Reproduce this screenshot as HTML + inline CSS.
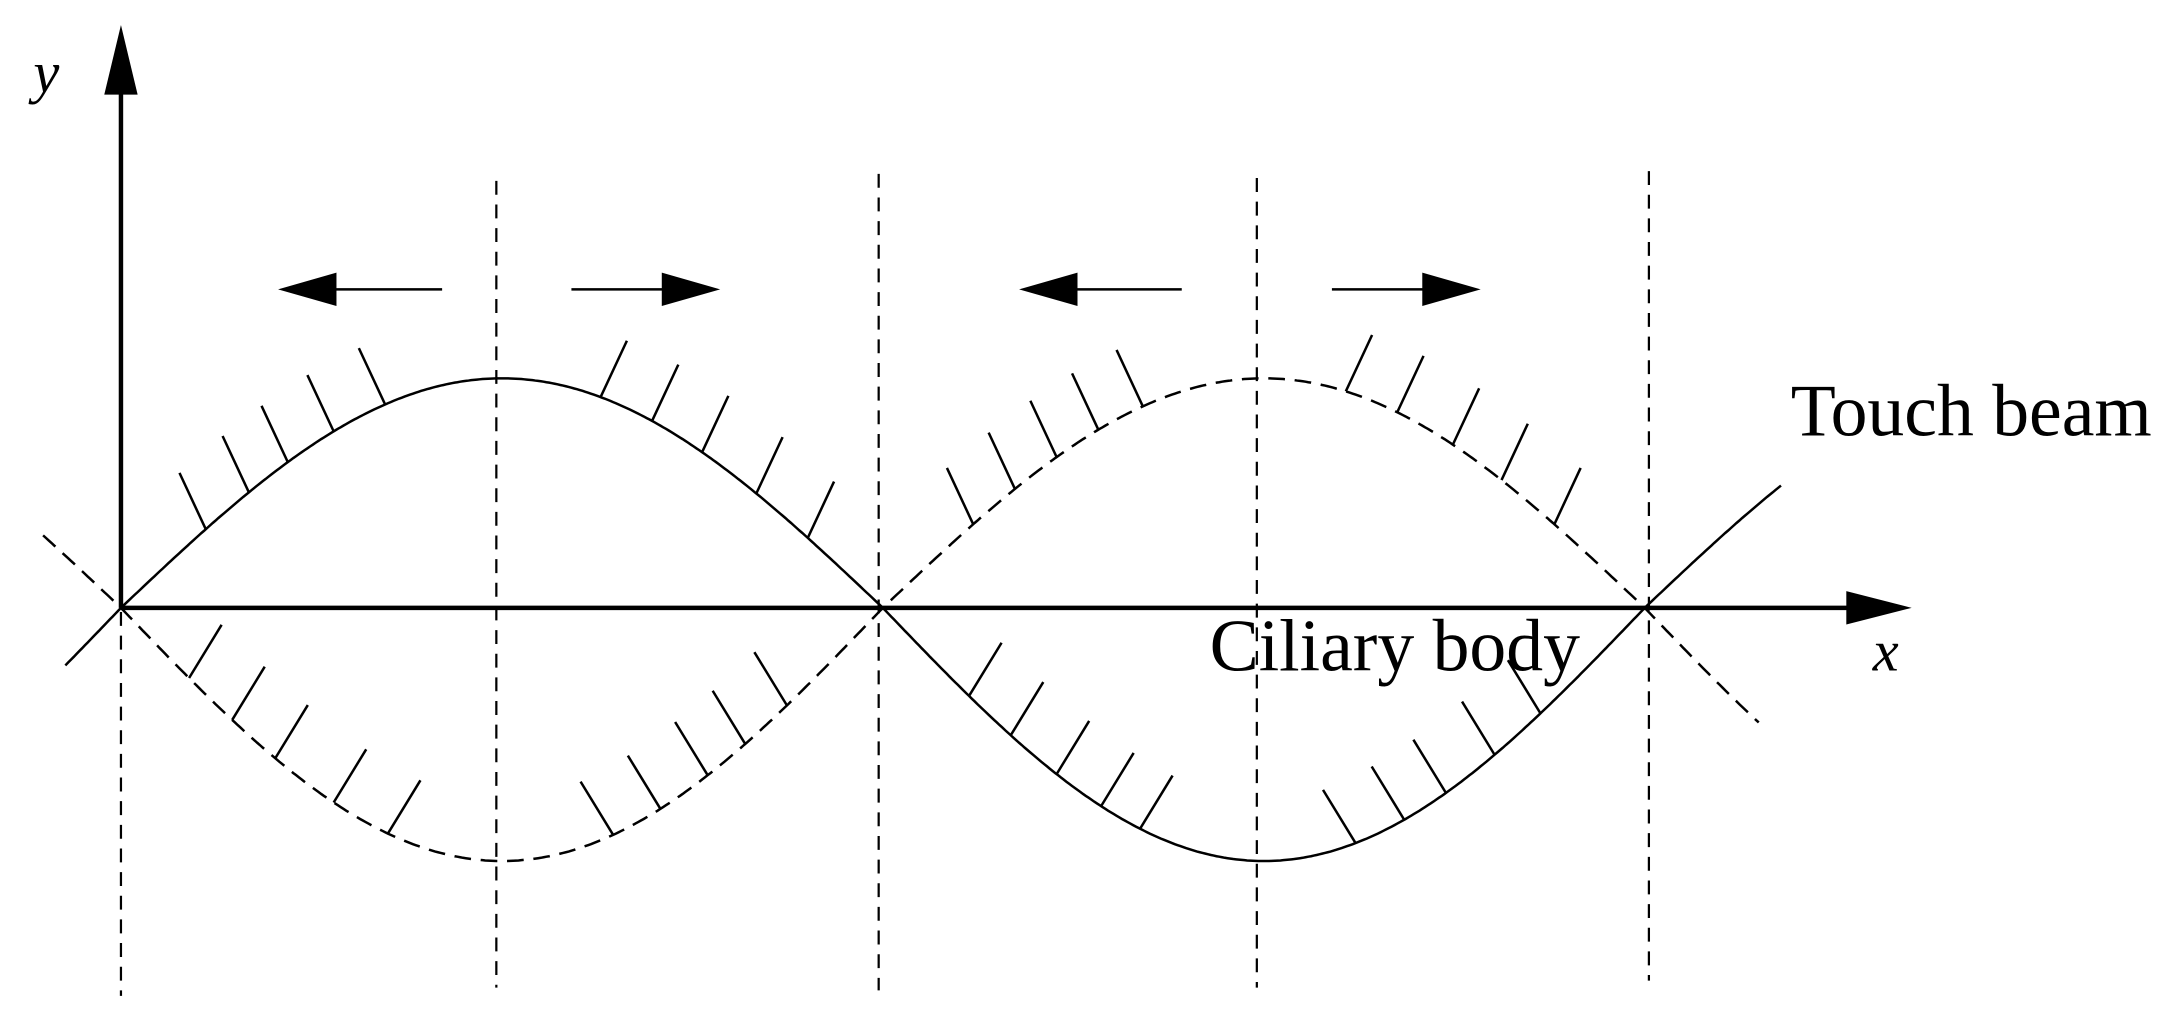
<!DOCTYPE html>
<html><head><meta charset="utf-8"><style>
html,body{margin:0;padding:0;background:#fff;}
svg{display:block;}
text{font-family:"Liberation Serif",serif;fill:#000;}
</style></head><body>
<svg id="s" width="2180" height="1014" viewBox="0 0 1568 729" preserveAspectRatio="none" xmlns="http://www.w3.org/2000/svg">
<rect width="1568" height="729" fill="#fff"/>
<g stroke="#000" stroke-width="1.6" stroke-dasharray="10,7" fill="none">
<line x1="87" y1="440" x2="87" y2="716"/>
<line x1="357" y1="130" x2="357" y2="710"/>
<line x1="632" y1="125" x2="632" y2="712"/>
<line x1="904" y1="128" x2="904" y2="710"/>
<line x1="1186" y1="123" x2="1186" y2="705"/>
</g>
<g stroke="#000" stroke-width="3.2">
<line x1="87" y1="437" x2="87" y2="60"/>
<line x1="87" y1="437" x2="1332" y2="437"/>
</g>
<polygon points="87,18 75,68 99,68" fill="#000"/>
<polygon points="1375,437 1328,425 1328,449" fill="#000"/>
<g stroke="#000" stroke-width="1.8">
<line x1="318" y1="208" x2="236" y2="208"/>
<line x1="411" y1="208" x2="478" y2="208"/>
<line x1="850" y1="208" x2="770" y2="208"/>
<line x1="958" y1="208" x2="1028" y2="208"/>
</g>
<g fill="#000">
<polygon points="200,208 242,196 242,220"/>
<polygon points="518,208 476,196 476,220"/>
<polygon points="733,208 775,196 775,220"/>
<polygon points="1065,208 1023,196 1023,220"/>
</g>
<g id="curves" fill="none" stroke="#000" stroke-width="1.8"></g>
<text x="24" y="66" font-size="42" font-style="italic">y</text>
<text x="1347" y="482" font-size="42" font-style="italic">x</text>
<text x="1288" y="313" font-size="53">Touch beam</text>
<text x="870" y="482" font-size="53">Ciliary body</text>
</svg>
<script>
(function(){
var g=document.getElementById('curves');
var NS='http://www.w3.org/2000/svg';
function f(x,sign){
  var t=(x-87)/548*Math.PI;
  var s=Math.sin(t)*sign;
  var A= s>0?165:182;
  return 437 - A*s;
}
function path(x0,x1,sign,dash){
  var d='';
  for(var x=x0;x<=x1;x+=2){d+=(x==x0?'M':'L')+x+','+f(x,sign).toFixed(1)+' ';}
  var p=document.createElementNS(NS,'path');
  p.setAttribute('d',d);
  if(dash)p.setAttribute('stroke-dasharray','12,7');
  g.appendChild(p);
}
path(47,1281,1,false);
path(31,1265,-1,true);
function tick(x,sign,dx,dy){
  var y=f(x,sign),L=45;
  var l=document.createElementNS(NS,'line');
  l.setAttribute('x1',x);l.setAttribute('y1',y);
  l.setAttribute('x2',x+dx*L);l.setAttribute('y2',y+dy*L);
  g.appendChild(l);
}
[148,179,207,240,277].forEach(function(x){tick(x,1,-0.42,-0.9);});
[432,469,505,544,581].forEach(function(x){tick(x,1,0.42,-0.9);});
[136,167,198,240,279].forEach(function(x){tick(x,-1,0.52,-0.85);});
[441,475,509,536,566].forEach(function(x){tick(x,-1,-0.52,-0.85);});
[700,730,760,790,822].forEach(function(x){tick(x,-1,-0.42,-0.9);});
[968,1005,1045,1080,1118].forEach(function(x){tick(x,-1,0.42,-0.9);});
[697,727,760,792,820].forEach(function(x){tick(x,1,0.52,-0.85);});
[975,1010,1040,1075,1108].forEach(function(x){tick(x,1,-0.52,-0.85);});
})();
</script>
</body></html>
